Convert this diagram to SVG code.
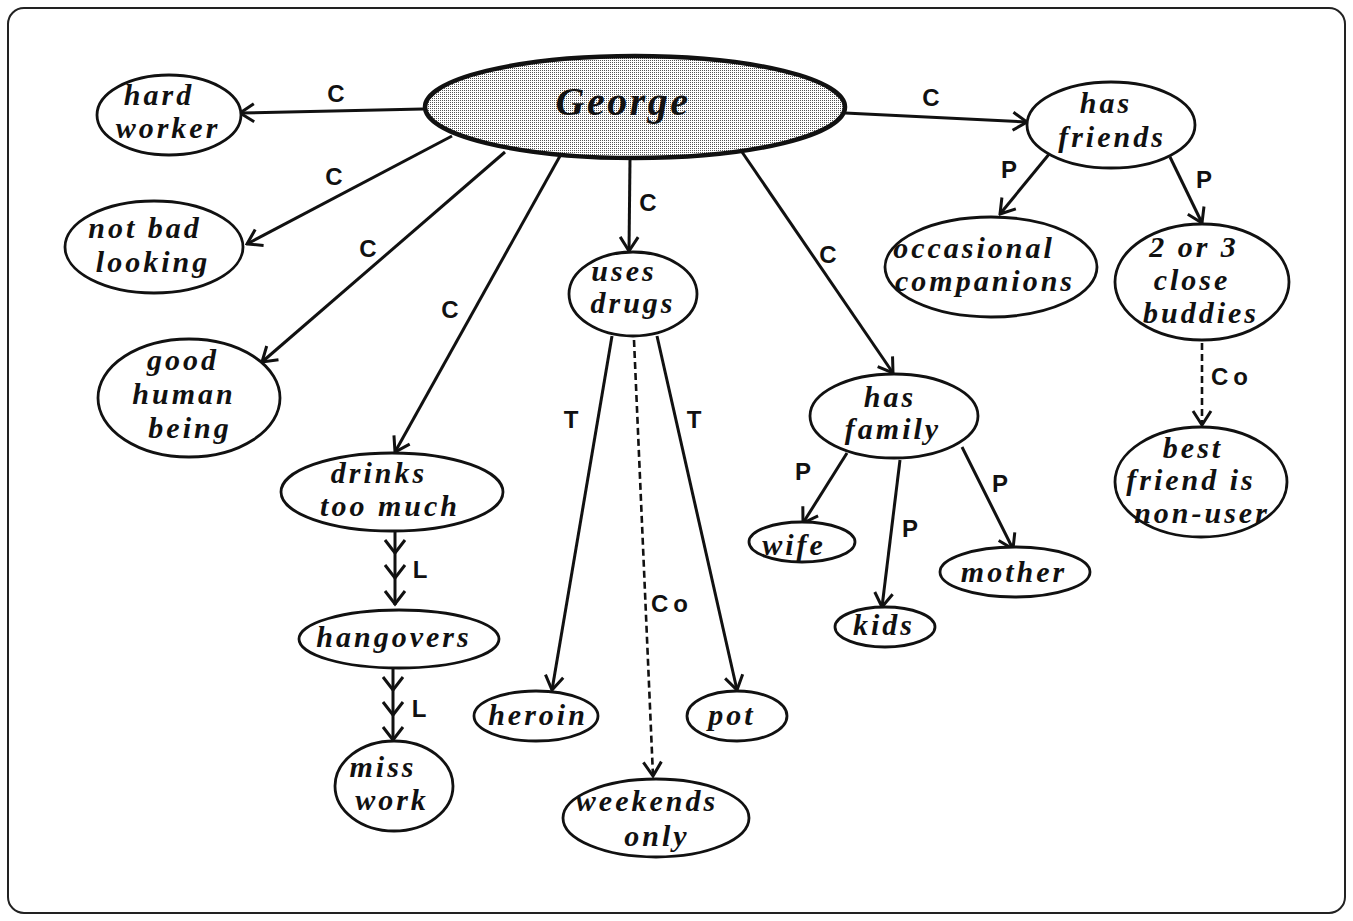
<svg xmlns="http://www.w3.org/2000/svg" width="1353" height="921" viewBox="0 0 1353 921">
<style>
.n{fill:#fff;stroke:#111;stroke-width:2.8}
.t{font-family:"Liberation Serif",serif;font-weight:bold;font-style:italic;font-size:30px;letter-spacing:3px;text-anchor:middle;fill:#111}
.e{stroke:#111;stroke-width:3;fill:none}
.d{stroke:#111;stroke-width:2.6;fill:none;stroke-dasharray:7 4}
.l{font-family:"Liberation Sans",Arial,sans-serif;font-weight:bold;font-size:24px;text-anchor:middle;fill:#111}
</style>
<defs>
<pattern id="dots" width="2" height="2" patternUnits="userSpaceOnUse">
<rect width="2" height="2" fill="#fff"/><rect width="1" height="1" fill="#555"/>
</pattern>
<marker id="arr" viewBox="-17 -11 19 22" markerWidth="19" markerHeight="22" refX="0" refY="0" orient="auto" markerUnits="userSpaceOnUse">
<path d="M-14,-9 L0,0 L-14,9" fill="none" stroke="#111" stroke-width="3"/>
</marker>
</defs>
<rect x="8" y="8" width="1337" height="905" rx="16" fill="#fff" stroke="#222" stroke-width="2"/>

<g id="connectors">
<line class="e" x1="423" y1="109" x2="240" y2="113" marker-end="url(#arr)"/>
<line class="e" x1="452" y1="136" x2="247" y2="244" marker-end="url(#arr)"/>
<line class="e" x1="505" y1="152" x2="262" y2="362" marker-end="url(#arr)"/>
<line class="e" x1="560" y1="156" x2="395" y2="452" marker-end="url(#arr)"/>
<line class="e" x1="630" y1="159" x2="629" y2="251" marker-end="url(#arr)"/>
<line class="e" x1="742" y1="152" x2="893" y2="373" marker-end="url(#arr)"/>
<line class="e" x1="845" y1="113" x2="1027" y2="122" marker-end="url(#arr)"/>
<line class="e" x1="1050" y1="153" x2="1000" y2="214" marker-end="url(#arr)"/>
<line class="e" x1="1170" y1="157" x2="1202" y2="223" marker-end="url(#arr)"/>
<line class="d" x1="1202" y1="343" x2="1202" y2="425" marker-end="url(#arr)"/>
<line class="e" x1="847" y1="453" x2="803" y2="523" marker-end="url(#arr)"/>
<line class="e" x1="900" y1="460" x2="882" y2="607" marker-end="url(#arr)"/>
<line class="e" x1="962" y1="447" x2="1013" y2="549" marker-end="url(#arr)"/>
<line class="e" x1="612" y1="336" x2="552" y2="690" marker-end="url(#arr)"/>
<line class="e" x1="657" y1="336" x2="737" y2="690" marker-end="url(#arr)"/>
<line class="d" x1="634" y1="340" x2="653" y2="776" marker-end="url(#arr)"/>
<line class="e" x1="395" y1="531" x2="395" y2="605"/>
<path class="e" d="M385,540 L395,553 L405,540 M385,565 L395,578 L405,565 M385,591 L395,604 L405,591"/>
<line class="e" x1="393" y1="668" x2="393" y2="741"/>
<path class="e" d="M383,677 L393,690 L403,677 M383,702 L393,715 L403,702 M383,727 L393,740 L403,727"/>
<text class="l" x="336" y="102">C</text>
<text class="l" x="334" y="185">C</text>
<text class="l" x="368" y="257">C</text>
<text class="l" x="450" y="318">C</text>
<text class="l" x="648" y="211">C</text>
<text class="l" x="828" y="263">C</text>
<text class="l" x="931" y="106">C</text>
<text class="l" x="1009" y="178">P</text>
<text class="l" x="1204" y="188">P</text>
<text class="l" x="1232" y="385" style="letter-spacing:5px">Co</text>
<text class="l" x="803" y="480">P</text>
<text class="l" x="910" y="537">P</text>
<text class="l" x="1000" y="492">P</text>
<text class="l" x="571" y="428">T</text>
<text class="l" x="694" y="428">T</text>
<text class="l" x="672" y="612" style="letter-spacing:5px">Co</text>
<text class="l" x="420" y="578">L</text>
<text class="l" x="419" y="717">L</text>
</g>

<g id="george">
<ellipse cx="635" cy="107" rx="210" ry="51" fill="url(#dots)" stroke="#111" stroke-width="4.5"/>
<text class="t" x="623" y="115" style="font-size:40px;letter-spacing:2.5px">George</text>
</g>
<g id="hard-worker">
<ellipse class="n" cx="169" cy="115" rx="72" ry="40"/>
<text class="t" x="159" y="105">hard</text>
<text class="t" x="168" y="138">worker</text>
</g>
<g id="not-bad-looking">
<ellipse class="n" cx="154" cy="247" rx="89" ry="46"/>
<text class="t" x="145" y="238">not  bad</text>
<text class="t" x="153" y="272">looking</text>
</g>
<g id="good-human-being">
<ellipse class="n" cx="189" cy="398" rx="91" ry="59"/>
<text class="t" x="183" y="370">good</text>
<text class="t" x="184" y="404">human</text>
<text class="t" x="190" y="438">being</text>
</g>
<g id="drinks-too-much">
<ellipse class="n" cx="392" cy="492" rx="111" ry="39"/>
<text class="t" x="379" y="483">drinks</text>
<text class="t" x="390" y="516">too  much</text>
</g>
<g id="hangovers">
<ellipse class="n" cx="399" cy="639" rx="100" ry="29"/>
<text class="t" x="394" y="647">hangovers</text>
</g>
<g id="miss-work">
<ellipse class="n" cx="394" cy="786" rx="59" ry="45"/>
<text class="t" x="383" y="777">miss</text>
<text class="t" x="392" y="810">work</text>
</g>
<g id="uses-drugs">
<ellipse class="n" cx="633" cy="294" rx="64" ry="42"/>
<text class="t" x="624" y="281">uses</text>
<text class="t" x="633" y="313">drugs</text>
</g>
<g id="heroin">
<ellipse class="n" cx="536" cy="716" rx="62" ry="25"/>
<text class="t" x="538" y="725">heroin</text>
</g>
<g id="pot">
<ellipse class="n" cx="737" cy="716" rx="50" ry="25"/>
<text class="t" x="732" y="725">pot</text>
</g>
<g id="weekends-only">
<ellipse class="n" cx="656" cy="818" rx="93" ry="39"/>
<text class="t" x="647" y="811">weekends</text>
<text class="t" x="657" y="846">only</text>
</g>
<g id="has-family">
<ellipse class="n" cx="894" cy="416" rx="84" ry="42"/>
<text class="t" x="890" y="407">has</text>
<text class="t" x="893" y="439">family</text>
</g>
<g id="wife">
<ellipse class="n" cx="802" cy="542" rx="53" ry="20"/>
<text class="t" x="794" y="555">wife</text>
</g>
<g id="kids">
<ellipse class="n" cx="885" cy="627" rx="50" ry="20"/>
<text class="t" x="884" y="635">kids</text>
</g>
<g id="mother">
<ellipse class="n" cx="1015" cy="572" rx="75" ry="25"/>
<text class="t" x="1014" y="582">mother</text>
</g>
<g id="has-friends">
<ellipse class="n" cx="1111" cy="125" rx="84" ry="43"/>
<text class="t" x="1106" y="113">has</text>
<text class="t" x="1112" y="147">friends</text>
</g>
<g id="occasional-companions">
<ellipse class="n" cx="991" cy="267" rx="106" ry="50"/>
<text class="t" x="974" y="258">occasional</text>
<text class="t" x="985" y="291">companions</text>
</g>
<g id="close-buddies">
<ellipse class="n" cx="1202" cy="282" rx="87" ry="58"/>
<text class="t" x="1194" y="257">2 or 3</text>
<text class="t" x="1192" y="290">close</text>
<text class="t" x="1201" y="323">buddies</text>
</g>
<g id="best-friend">
<ellipse class="n" cx="1201" cy="482" rx="86" ry="55"/>
<text class="t" x="1193" y="458">best</text>
<text class="t" x="1191" y="490">friend is</text>
<text class="t" x="1202" y="523">non-user</text>
</g>
</svg>
